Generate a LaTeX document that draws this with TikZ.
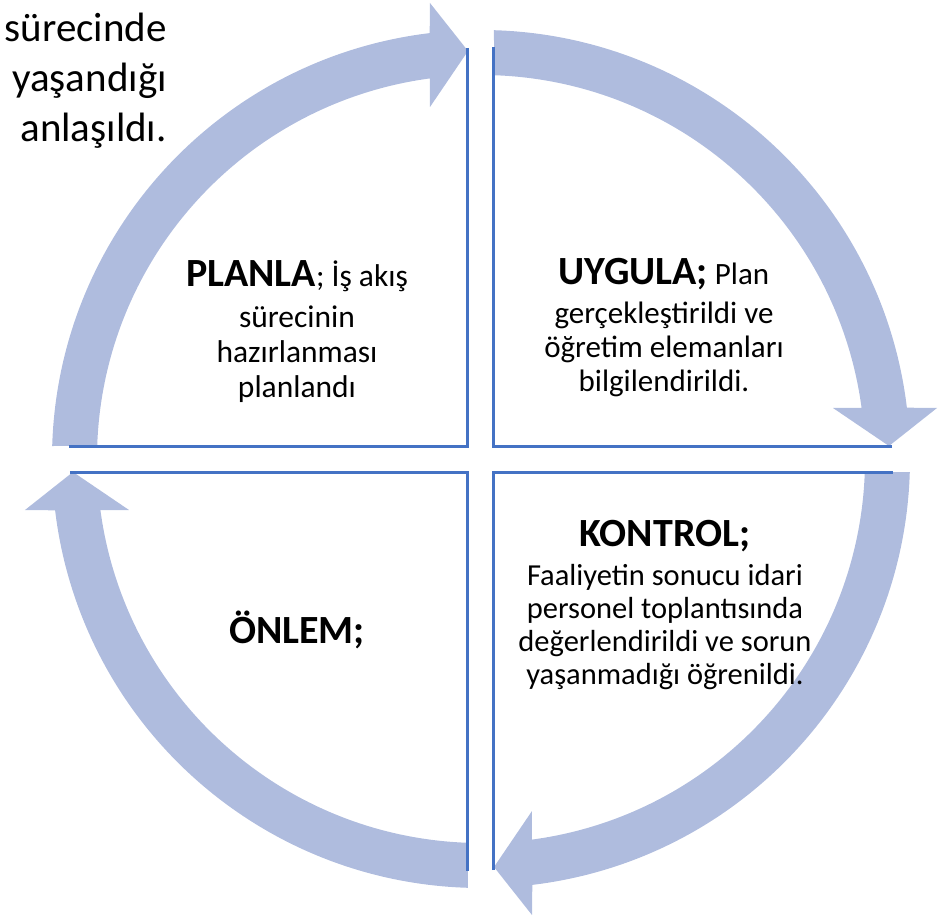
\documentclass[tikz,border=0pt]{standalone}
\usepackage{fontspec}
\setmainfont{Carlito}
\definecolor{ringfill}{RGB}{175,188,222}
\definecolor{edgeblue}{RGB}{68,114,196}

\begin{document}
\begin{tikzpicture}
    [x=1pt,y=1pt,every node/.style={align=center,inner sep=0pt},
     ringarrow/.style={fill=ringfill},
     quadedge/.style={draw=edgeblue,line width=3pt},
     title/.style={font=\fontsize{40}{44}\selectfont\bfseries}]
    \useasboundingbox (-481,-457) rectangle (462,459);

    % four quarter arrows round the cycle
    \foreach \r in {0,-90,-180,-270} {
      \begin{scope}[rotate=\r]
        \fill[ringarrow] (-428.8,13) arc[start angle=178.26,end angle=96.87,radius=429pt]
          -- (-51,456) -- (-13,408) -- (-51,352) -- (-51,380.6)
          arc[start angle=97.63,end angle=178.06,radius=384pt] -- cycle;
      \end{scope}
    }
    % quadrant edges
    \foreach \r in {0,-90,-180,-270} {
      \begin{scope}[rotate=\r]
        \draw[quadedge] (-13,411) -- (-13,13) -- (-412,13);
      \end{scope}
    }

    \node[font=\fontsize{31.5}{35}\selectfont] (planla) at (-184,127)
      {{\fontsize{40}{44}\selectfont\bfseries PLANLA}; İş akış\\[6pt]sürecinin\\hazırlanması\\planlandı};
    \node[font=\fontsize{31}{34}\selectfont] (uygula) at (183,131)
      {{\fontsize{40}{44}\selectfont\bfseries UYGULA;} Plan\\[5pt]gerçekleştirildi ve\\öğretim elemanları\\bilgilendirildi.};
    \node[font=\fontsize{30.5}{33}\selectfont] (kontrol) at (184,-146)
      {{\fontsize{40}{44}\selectfont\bfseries KONTROL;}\\[6pt]Faaliyetin sonucu idari\\personel toplantısında\\değerlendirildi ve sorun\\yaşanmadığı öğrenildi.};
    \node[title] (onlem) at (-184,-171) {ÖNLEM;};

    \node[anchor=east,align=right,font=\fontsize{41}{50}\selectfont] (note) at (-314,378)
      {sürecinde\\yaşandığı\\anlaşıldı.};
  \end{tikzpicture}
\end{document}
